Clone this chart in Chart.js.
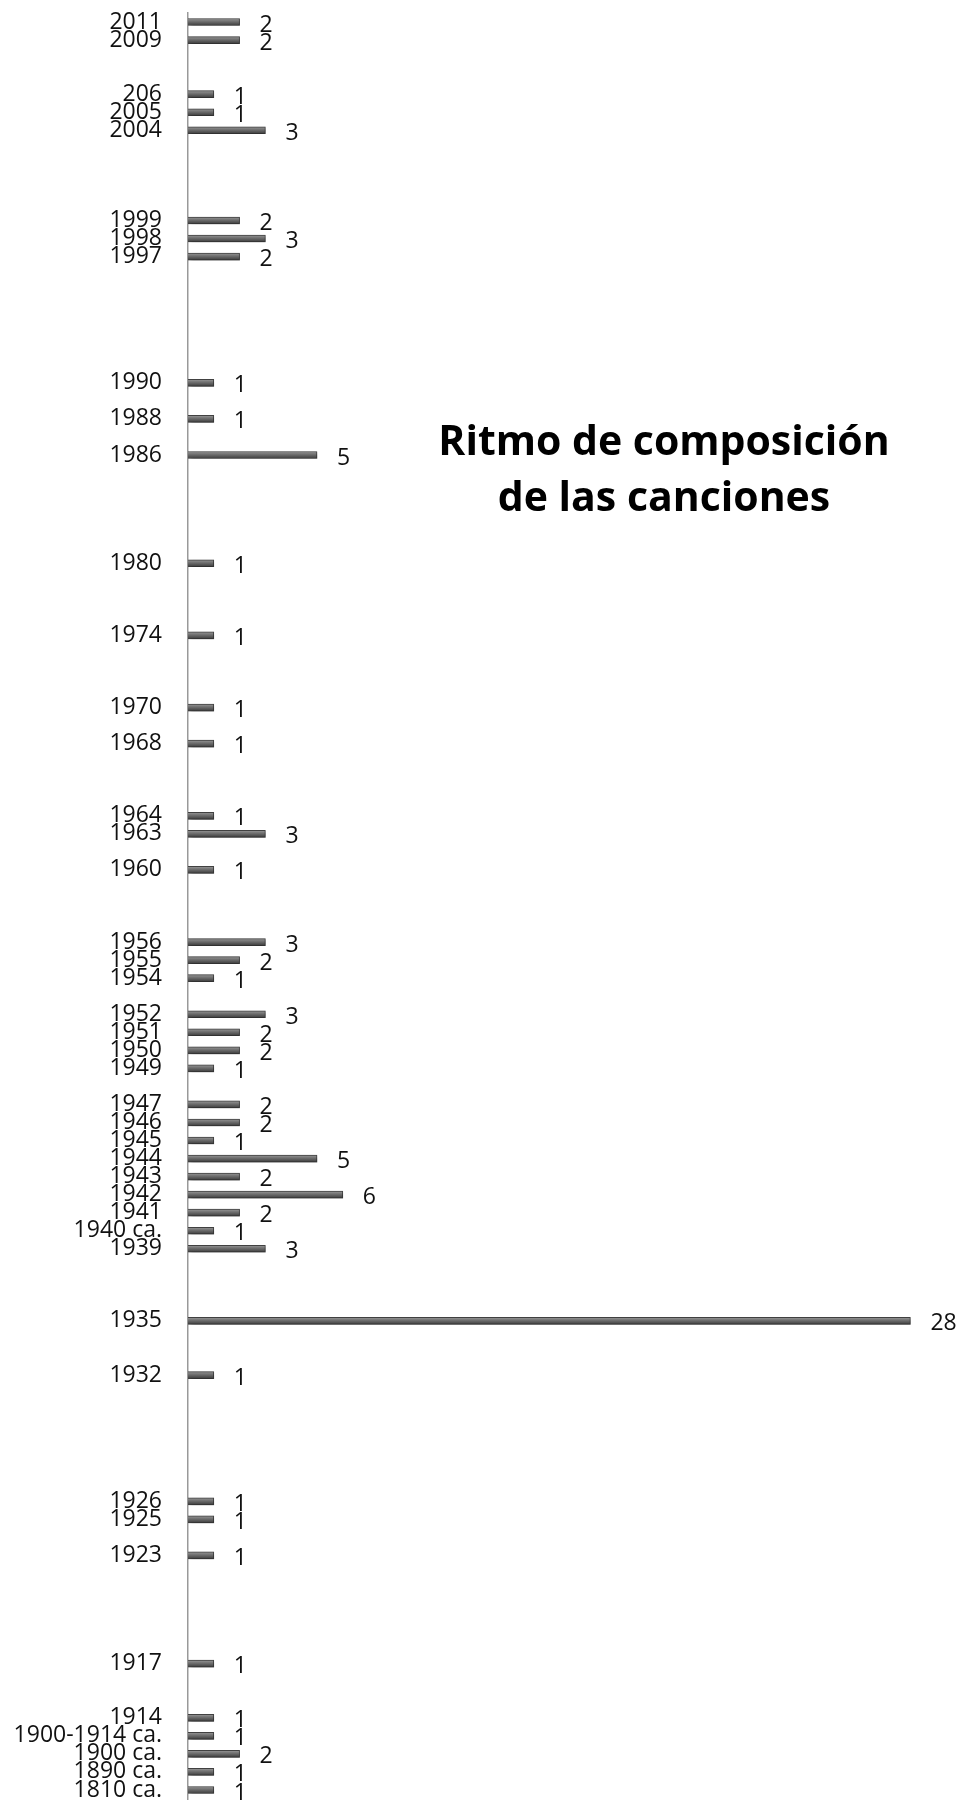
<!DOCTYPE html>
<html>
<head>
<meta charset="utf-8">
<title>Ritmo de composición de las canciones</title>
<script src="https://cdn.jsdelivr.net/npm/chart.js@4.4.1/dist/chart.umd.min.js"></script>
<style>
  body { margin: 0; background: #fff; }
  #wrap { position: relative; width: 962px; height: 1805px; }
  #titulo {
    position: absolute; left: 404px; top: 411px; width: 520px;
    text-align: center; font-family: "Open Sans", sans-serif; font-weight: bold;
    font-size: 41px; line-height: 56px; color: #000;
  }
</style>
</head>
<body>
<div id="wrap">
  <canvas id="myChart" width="962" height="1805"></canvas>
  <div id="titulo">Ritmo de composición<br>de las canciones</div>
</div>
<script>
// años (de arriba a abajo), los huecos son filas vacías del original
const years = [
  '2011', '2009', '', '', '206', '2005', '2004', '', '', '', '',
  '1999', '1998', '1997', '', '', '', '', '', '',
  '1990', '', '1988', '', '1986', '', '', '', '', '',
  '1980', '', '', '', '1974', '', '', '', '1970', '', '1968', '', '', '',
  '1964', '1963', '', '1960', '', '', '',
  '1956', '1955', '1954', '', '1952', '1951', '1950', '1949', '',
  '1947', '1946', '1945', '1944', '1943', '1942', '1941', '1940 ca.', '1939', '', '', '',
  '1935', '', '', '1932', '', '', '', '', '', '',
  '1926', '1925', '', '1923', '', '', '', '', '',
  '1917', '', '', '1914', '1900-1914 ca.', '1900 ca.', '1890 ca.', '1810 ca.'
];
// número de canciones por año
const songs = [
  2, 2, null, null, 1, 1, 3, null, null, null, null,
  2, 3, 2, null, null, null, null, null, null,
  1, null, 1, null, 5, null, null, null, null, null,
  1, null, null, null, 1, null, null, null, 1, null, 1, null, null, null,
  1, 3, null, 1, null, null, null,
  3, 2, 1, null, 3, 2, 2, 1, null,
  2, 2, 1, 5, 2, 6, 2, 1, 3, null, null, null,
  28, null, null, 1, null, null, null, null, null, null,
  1, 1, null, 1, null, null, null, null, null,
  1, null, null, 1, 1, 2, 1, 1
];
const xMax = 30;

// sombra de las barras
const sombra = {
  id: 'sombra',
  beforeDatasetsDraw(chart) {
    const c = chart.ctx;
    c.save();
    c.shadowColor = 'rgba(0,0,0,0.4)';
    c.shadowBlur = 4;
    c.shadowOffsetX = 2;
    c.shadowOffsetY = 2;
  },
  afterDatasetsDraw(chart) {
    chart.ctx.restore();
  }
};

// números al final de cada barra
const valores = {
  id: 'valores',
  afterDatasetsDraw(chart) {
    const c = chart.ctx;
    const meta = chart.getDatasetMeta(0);
    c.save();
    c.font = '23px "Open Sans"';
    c.fillStyle = '#111';
    c.textAlign = 'left';
    c.textBaseline = 'middle';
    meta.data.forEach((bar, i) => {
      if (songs[i] === null) return;
      c.fillText(songs[i], bar.x + 20, bar.y + 3);
    });
    c.restore();
  }
};

function barFill(context) {
  const chart = context.chart;
  const y = chart.scales && chart.scales.y;
  if (!y || !chart.chartArea || context.dataIndex === undefined) return '#707070';
  const py = y.getPixelForValue(context.dataIndex);
  const g = chart.ctx.createLinearGradient(0, py - 3.5, 0, py + 3.5);
  g.addColorStop(0, '#9a9a9a');
  g.addColorStop(0.3, '#7a7a7a');
  g.addColorStop(1, '#3c3c3c');
  return g;
}

const ctx = document.getElementById('myChart');
const myChart = new Chart(ctx, {
  type: 'bar',
  data: {
    labels: years,
    datasets: [{
      data: songs,
      backgroundColor: barFill,
      borderColor: '#444',
      borderWidth: 1,
      barThickness: 7
    }]
  },
  options: {
    indexAxis: 'y',
    responsive: false,
    animation: false,
    layout: { padding: { top: 13, bottom: 6, left: 0, right: 0 } },
    plugins: { legend: { display: false }, tooltip: { enabled: false } },
    scales: {
      x: { display: false, min: 0, max: xMax },
      y: {
        afterFit(scale) {
          scale.width = 188;
          scale.paddingTop = 0;
          scale.paddingBottom = 0;
        },
        grid: { display: false, drawTicks: false },
        border: { display: true, color: '#999', width: 1.5 },
        ticks: {
          autoSkip: false,
          padding: 26,
          color: '#111',
          font: { family: 'Open Sans', size: 23 }
        }
      }
    }
  },
  plugins: [sombra, valores]
});
</script>
</body>
</html>
